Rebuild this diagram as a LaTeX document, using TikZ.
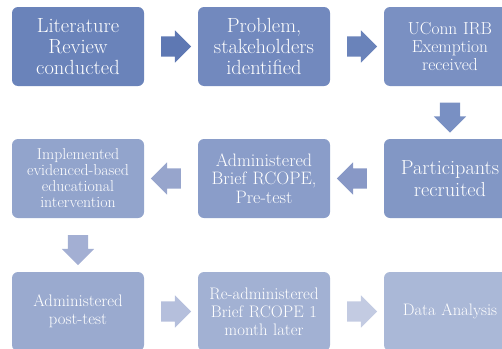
\documentclass[tikz,border=0pt]{standalone}
\usetikzlibrary{shapes.arrows,calc}
\definecolor{cA}{HTML}{6A83BA}
\definecolor{cB}{HTML}{7289BE}
\definecolor{cC}{HTML}{7A90C2}
\definecolor{cD}{HTML}{8297C5}
\definecolor{cE}{HTML}{8A9DC9}
\definecolor{cF}{HTML}{92A4CC}
\definecolor{cG}{HTML}{9AAACF}
\definecolor{cH}{HTML}{A2B1D3}
\definecolor{cI}{HTML}{AAB8D7}
\definecolor{aA}{HTML}{5E78B3}
\definecolor{aB}{HTML}{6A83BA}
\definecolor{aC}{HTML}{7990C3}
\definecolor{aD}{HTML}{8898C6}
\definecolor{aE}{HTML}{97A5CC}
\definecolor{aF}{HTML}{A3AFD3}
\definecolor{aG}{HTML}{B5BFDC}
\definecolor{aH}{HTML}{C3CBE2}
\tikzset{
  stepbox/.style={rounded corners=6pt, minimum width=132pt, minimum height=79pt,
    inner sep=0pt, text=white, align=center, text width=130pt},
  blockarrow/.style={single arrow, minimum height=30pt, minimum width=32pt,
    text height=10pt, text depth=10pt, text width=0pt,
    single arrow head extend=6pt, inner sep=0pt, draw=none},
}
\begin{document}
\begin{tikzpicture}[x=1pt,y=-1pt]
\useasboundingbox (0,0) rectangle (502,348);
\clip (0,0) rectangle (502,348);
% row 1
\node[stepbox, fill=cA, font=\fontsize{20.5}{21}\selectfont] (b1) at (78,46.5) {Literature\\Review\\conducted};
\node[stepbox, fill=cB, font=\fontsize{20.5}{21}\selectfont] (b2) at (264,46.5) {Problem,\\stakeholders\\identified};
\node[stepbox, fill=cC, font=\fontsize{17.4}{18}\selectfont] (b3) at (450,46.5) {UConn IRB\\Exemption\\received};
% row 2
\node[stepbox, fill=cD, font=\fontsize{20.3}{22}\selectfont] (b4) at (450,178.5) {Participants\\recruited};
\node[stepbox, fill=cE, font=\fontsize{18}{18.5}\selectfont] (b5) at (264,178.5) {Administered\\Brief RCOPE,\\Pre-test};
\node[stepbox, fill=cF, font=\fontsize{15.8}{16}\selectfont] (b6) at (78,178.5) {Implemented\\evidenced-based\\educational\\intervention};
% row 3
\node[stepbox, fill=cG, font=\fontsize{16.7}{18}\selectfont] (b7) at (78,311.5) {Administered\\post-test};
\node[stepbox, fill=cH, font=\fontsize{16.7}{18}\selectfont] (b8) at (264,311.5) {Re-administered\\Brief RCOPE 1\\month later};
\node[stepbox, fill=cI, font=\fontsize{16.6}{18}\selectfont] (b9) at (450,311.5) {Data Analysis};
% arrows
\node[blockarrow, fill=aA] (a1) at ($(b1.east)!0.5!(b2.west)$) {};
\node[blockarrow, fill=aB] (a2) at ($(b2.east)!0.5!(b3.west)$) {};
\node[blockarrow, fill=aC, rotate=-90] (a3) at ($(b3.south)!0.5!(b4.north)$) {};
\node[blockarrow, fill=aD, rotate=180] (a4) at ($(b4.west)!0.5!(b5.east)$) {};
\node[blockarrow, fill=aE, rotate=180] (a5) at ($(b5.west)!0.5!(b6.east)$) {};
\node[blockarrow, fill=aF, rotate=-90] (a6) at ($(b6.south)!0.5!(b7.north)$) {};
\node[blockarrow, fill=aG] (a7) at ($(b7.east)!0.5!(b8.west)$) {};
\node[blockarrow, fill=aH] (a8) at ($(b8.east)!0.5!(b9.west)$) {};
\end{tikzpicture}
\end{document}
